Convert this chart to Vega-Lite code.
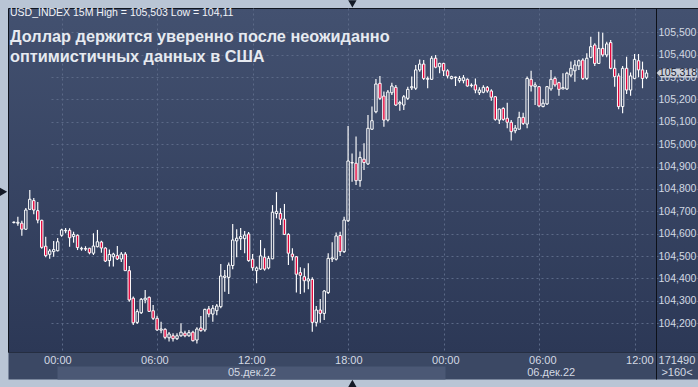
{
  "$schema": "https://vega.github.io/schema/vega-lite/v6.json",
  "width": 690,
  "height": 344,
  "autosize": {"type": "none"},
  "padding": {"left": 8, "top": 8, "right": 0, "bottom": 35},
  "background": "#b9c5d5",
  "view": {
    "fill": {"gradient": "linear", "x1": 0, "y1": 0, "x2": 0, "y2": 1,
      "stops": [{"offset": 0, "color": "#435170"}, {"offset": 1, "color": "#2c3856"}]},
    "stroke": "#10151f",
    "strokeWidth": 1
  },
  "config": {
    "font": "Liberation Sans",
    "axis": {"labelFont": "Liberation Sans", "labelColor": "#d3d9e3", "labelFontSize": 11, "labelOverlap": false},
    "axisY": {"labelOverlap": false}
  },
  "title": {
    "text": "USD_INDEX 15M High = 105,503 Low = 104,11",
    "subtitle": ["Доллар держится уверенно после неожиданно", "оптимистичных данных в США"],
    "anchor": "start",
    "frame": "group",
    "orient": "top",
    "offset": -65,
    "dx": 2,
    "font": "Liberation Sans",
    "fontSize": 10.5,
    "fontWeight": "normal",
    "color": "#f2f4f8",
    "subtitleFont": "Liberation Sans",
    "subtitleFontSize": 16.3,
    "subtitleFontWeight": "bold",
    "subtitleColor": "#e6eaf0",
    "subtitleLineHeight": 20,
    "subtitlePadding": 11
  },
  "datasets": {
    "candles": [
      {"t": "2022-12-04T21:00Z", "o": 104.650, "h": 104.655, "l": 104.646, "c": 104.652},
      {"t": "2022-12-04T21:15Z", "o": 104.647, "h": 104.676, "l": 104.636, "c": 104.651},
      {"t": "2022-12-04T21:30Z", "o": 104.647, "h": 104.658, "l": 104.591, "c": 104.620},
      {"t": "2022-12-04T21:45Z", "o": 104.620, "h": 104.715, "l": 104.618, "c": 104.706},
      {"t": "2022-12-04T22:00Z", "o": 104.709, "h": 104.795, "l": 104.707, "c": 104.754},
      {"t": "2022-12-04T22:15Z", "o": 104.748, "h": 104.760, "l": 104.687, "c": 104.706},
      {"t": "2022-12-04T22:30Z", "o": 104.703, "h": 104.742, "l": 104.647, "c": 104.661},
      {"t": "2022-12-04T22:45Z", "o": 104.660, "h": 104.662, "l": 104.533, "c": 104.539},
      {"t": "2022-12-04T23:00Z", "o": 104.544, "h": 104.587, "l": 104.495, "c": 104.502},
      {"t": "2022-12-04T23:15Z", "o": 104.508, "h": 104.532, "l": 104.488, "c": 104.523},
      {"t": "2022-12-04T23:30Z", "o": 104.520, "h": 104.568, "l": 104.497, "c": 104.529},
      {"t": "2022-12-04T23:45Z", "o": 104.524, "h": 104.581, "l": 104.521, "c": 104.564},
      {"t": "2022-12-05T00:00Z", "o": 104.593, "h": 104.622, "l": 104.587, "c": 104.617},
      {"t": "2022-12-05T00:15Z", "o": 104.613, "h": 104.626, "l": 104.602, "c": 104.615},
      {"t": "2022-12-05T00:30Z", "o": 104.615, "h": 104.624, "l": 104.542, "c": 104.582},
      {"t": "2022-12-05T00:45Z", "o": 104.587, "h": 104.609, "l": 104.560, "c": 104.597},
      {"t": "2022-12-05T01:00Z", "o": 104.593, "h": 104.597, "l": 104.527, "c": 104.538},
      {"t": "2022-12-05T01:15Z", "o": 104.532, "h": 104.542, "l": 104.524, "c": 104.535},
      {"t": "2022-12-05T01:30Z", "o": 104.534, "h": 104.544, "l": 104.523, "c": 104.531},
      {"t": "2022-12-05T01:45Z", "o": 104.535, "h": 104.537, "l": 104.508, "c": 104.515},
      {"t": "2022-12-05T02:00Z", "o": 104.513, "h": 104.602, "l": 104.505, "c": 104.545},
      {"t": "2022-12-05T02:15Z", "o": 104.542, "h": 104.617, "l": 104.539, "c": 104.564},
      {"t": "2022-12-05T02:30Z", "o": 104.563, "h": 104.569, "l": 104.515, "c": 104.536},
      {"t": "2022-12-05T02:45Z", "o": 104.536, "h": 104.539, "l": 104.474, "c": 104.478},
      {"t": "2022-12-05T03:00Z", "o": 104.480, "h": 104.530, "l": 104.454, "c": 104.507},
      {"t": "2022-12-05T03:15Z", "o": 104.497, "h": 104.515, "l": 104.453, "c": 104.509},
      {"t": "2022-12-05T03:30Z", "o": 104.502, "h": 104.545, "l": 104.483, "c": 104.487},
      {"t": "2022-12-05T03:45Z", "o": 104.487, "h": 104.518, "l": 104.474, "c": 104.509},
      {"t": "2022-12-05T04:00Z", "o": 104.509, "h": 104.518, "l": 104.433, "c": 104.435},
      {"t": "2022-12-05T04:15Z", "o": 104.435, "h": 104.456, "l": 104.296, "c": 104.304},
      {"t": "2022-12-05T04:30Z", "o": 104.312, "h": 104.319, "l": 104.192, "c": 104.202},
      {"t": "2022-12-05T04:45Z", "o": 104.204, "h": 104.262, "l": 104.197, "c": 104.252},
      {"t": "2022-12-05T05:00Z", "o": 104.247, "h": 104.313, "l": 104.241, "c": 104.307},
      {"t": "2022-12-05T05:15Z", "o": 104.304, "h": 104.349, "l": 104.289, "c": 104.312},
      {"t": "2022-12-05T05:30Z", "o": 104.316, "h": 104.319, "l": 104.250, "c": 104.253},
      {"t": "2022-12-05T05:45Z", "o": 104.256, "h": 104.282, "l": 104.215, "c": 104.222},
      {"t": "2022-12-05T06:00Z", "o": 104.222, "h": 104.234, "l": 104.167, "c": 104.170},
      {"t": "2022-12-05T06:15Z", "o": 104.169, "h": 104.207, "l": 104.155, "c": 104.174},
      {"t": "2022-12-05T06:30Z", "o": 104.173, "h": 104.178, "l": 104.128, "c": 104.137},
      {"t": "2022-12-05T06:45Z", "o": 104.135, "h": 104.161, "l": 104.118, "c": 104.152},
      {"t": "2022-12-05T07:00Z", "o": 104.144, "h": 104.155, "l": 104.118, "c": 104.131},
      {"t": "2022-12-05T07:15Z", "o": 104.131, "h": 104.155, "l": 104.125, "c": 104.144},
      {"t": "2022-12-05T07:30Z", "o": 104.144, "h": 104.200, "l": 104.140, "c": 104.160},
      {"t": "2022-12-05T07:45Z", "o": 104.156, "h": 104.167, "l": 104.137, "c": 104.144},
      {"t": "2022-12-05T08:00Z", "o": 104.144, "h": 104.170, "l": 104.140, "c": 104.158},
      {"t": "2022-12-05T08:15Z", "o": 104.160, "h": 104.167, "l": 104.118, "c": 104.122},
      {"t": "2022-12-05T08:30Z", "o": 104.125, "h": 104.182, "l": 104.110, "c": 104.174},
      {"t": "2022-12-05T08:45Z", "o": 104.179, "h": 104.232, "l": 104.162, "c": 104.167},
      {"t": "2022-12-05T09:00Z", "o": 104.170, "h": 104.265, "l": 104.162, "c": 104.262},
      {"t": "2022-12-05T09:15Z", "o": 104.264, "h": 104.277, "l": 104.227, "c": 104.241},
      {"t": "2022-12-05T09:30Z", "o": 104.241, "h": 104.282, "l": 104.207, "c": 104.267},
      {"t": "2022-12-05T09:45Z", "o": 104.256, "h": 104.286, "l": 104.236, "c": 104.277},
      {"t": "2022-12-05T10:00Z", "o": 104.274, "h": 104.465, "l": 104.267, "c": 104.411},
      {"t": "2022-12-05T10:15Z", "o": 104.405, "h": 104.438, "l": 104.341, "c": 104.411},
      {"t": "2022-12-05T10:30Z", "o": 104.405, "h": 104.471, "l": 104.331, "c": 104.460},
      {"t": "2022-12-05T10:45Z", "o": 104.458, "h": 104.643, "l": 104.441, "c": 104.572},
      {"t": "2022-12-05T11:00Z", "o": 104.568, "h": 104.620, "l": 104.495, "c": 104.580},
      {"t": "2022-12-05T11:15Z", "o": 104.578, "h": 104.626, "l": 104.527, "c": 104.587},
      {"t": "2022-12-05T11:30Z", "o": 104.578, "h": 104.612, "l": 104.513, "c": 104.594},
      {"t": "2022-12-05T11:45Z", "o": 104.599, "h": 104.608, "l": 104.475, "c": 104.480},
      {"t": "2022-12-05T12:00Z", "o": 104.486, "h": 104.509, "l": 104.435, "c": 104.448},
      {"t": "2022-12-05T12:15Z", "o": 104.435, "h": 104.453, "l": 104.379, "c": 104.447},
      {"t": "2022-12-05T12:30Z", "o": 104.442, "h": 104.572, "l": 104.438, "c": 104.501},
      {"t": "2022-12-05T12:45Z", "o": 104.495, "h": 104.535, "l": 104.435, "c": 104.442},
      {"t": "2022-12-05T13:00Z", "o": 104.447, "h": 104.501, "l": 104.441, "c": 104.490},
      {"t": "2022-12-05T13:15Z", "o": 104.488, "h": 104.728, "l": 104.486, "c": 104.696},
      {"t": "2022-12-05T13:30Z", "o": 104.690, "h": 104.786, "l": 104.669, "c": 104.700},
      {"t": "2022-12-05T13:45Z", "o": 104.691, "h": 104.714, "l": 104.639, "c": 104.665},
      {"t": "2022-12-05T14:00Z", "o": 104.665, "h": 104.733, "l": 104.594, "c": 104.597},
      {"t": "2022-12-05T14:15Z", "o": 104.597, "h": 104.602, "l": 104.460, "c": 104.513},
      {"t": "2022-12-05T14:30Z", "o": 104.509, "h": 104.535, "l": 104.480, "c": 104.497},
      {"t": "2022-12-05T14:45Z", "o": 104.497, "h": 104.501, "l": 104.337, "c": 104.419},
      {"t": "2022-12-05T15:00Z", "o": 104.426, "h": 104.450, "l": 104.331, "c": 104.414},
      {"t": "2022-12-05T15:15Z", "o": 104.408, "h": 104.446, "l": 104.337, "c": 104.390},
      {"t": "2022-12-05T15:30Z", "o": 104.389, "h": 104.468, "l": 104.352, "c": 104.398},
      {"t": "2022-12-05T15:45Z", "o": 104.396, "h": 104.405, "l": 104.162, "c": 104.204},
      {"t": "2022-12-05T16:00Z", "o": 104.204, "h": 104.277, "l": 104.185, "c": 104.259},
      {"t": "2022-12-05T16:15Z", "o": 104.259, "h": 104.308, "l": 104.202, "c": 104.244},
      {"t": "2022-12-05T16:30Z", "o": 104.244, "h": 104.349, "l": 104.215, "c": 104.344},
      {"t": "2022-12-05T16:45Z", "o": 104.337, "h": 104.513, "l": 104.331, "c": 104.490},
      {"t": "2022-12-05T17:00Z", "o": 104.487, "h": 104.562, "l": 104.474, "c": 104.492},
      {"t": "2022-12-05T17:15Z", "o": 104.486, "h": 104.605, "l": 104.480, "c": 104.590},
      {"t": "2022-12-05T17:30Z", "o": 104.592, "h": 104.609, "l": 104.501, "c": 104.520},
      {"t": "2022-12-05T17:45Z", "o": 104.520, "h": 104.676, "l": 104.514, "c": 104.661},
      {"t": "2022-12-05T18:00Z", "o": 104.658, "h": 105.081, "l": 104.652, "c": 104.925},
      {"t": "2022-12-05T18:15Z", "o": 104.918, "h": 104.959, "l": 104.832, "c": 104.916},
      {"t": "2022-12-05T18:30Z", "o": 104.915, "h": 105.034, "l": 104.818, "c": 104.837},
      {"t": "2022-12-05T18:45Z", "o": 104.837, "h": 104.967, "l": 104.810, "c": 104.941},
      {"t": "2022-12-05T19:00Z", "o": 104.933, "h": 105.004, "l": 104.885, "c": 104.918},
      {"t": "2022-12-05T19:15Z", "o": 104.912, "h": 105.131, "l": 104.907, "c": 105.071},
      {"t": "2022-12-05T19:30Z", "o": 105.067, "h": 105.168, "l": 105.063, "c": 105.105},
      {"t": "2022-12-05T19:45Z", "o": 105.145, "h": 105.291, "l": 105.138, "c": 105.269},
      {"t": "2022-12-05T20:00Z", "o": 105.272, "h": 105.305, "l": 105.198, "c": 105.205},
      {"t": "2022-12-05T20:15Z", "o": 105.215, "h": 105.235, "l": 105.078, "c": 105.108},
      {"t": "2022-12-05T20:30Z", "o": 105.108, "h": 105.242, "l": 105.101, "c": 105.233},
      {"t": "2022-12-05T20:45Z", "o": 105.230, "h": 105.275, "l": 105.220, "c": 105.260},
      {"t": "2022-12-05T21:00Z", "o": 105.254, "h": 105.264, "l": 105.171, "c": 105.175},
      {"t": "2022-12-05T21:15Z", "o": 105.180, "h": 105.194, "l": 105.150, "c": 105.186},
      {"t": "2022-12-05T21:30Z", "o": 105.175, "h": 105.220, "l": 105.153, "c": 105.212},
      {"t": "2022-12-05T21:45Z", "o": 105.205, "h": 105.257, "l": 105.198, "c": 105.245},
      {"t": "2022-12-05T22:00Z", "o": 105.252, "h": 105.302, "l": 105.242, "c": 105.257},
      {"t": "2022-12-05T22:15Z", "o": 105.250, "h": 105.354, "l": 105.242, "c": 105.332},
      {"t": "2022-12-05T22:30Z", "o": 105.332, "h": 105.379, "l": 105.324, "c": 105.358},
      {"t": "2022-12-05T22:45Z", "o": 105.358, "h": 105.376, "l": 105.287, "c": 105.294},
      {"t": "2022-12-05T23:00Z", "o": 105.290, "h": 105.302, "l": 105.250, "c": 105.294},
      {"t": "2022-12-05T23:15Z", "o": 105.290, "h": 105.394, "l": 105.287, "c": 105.384},
      {"t": "2022-12-05T23:30Z", "o": 105.384, "h": 105.399, "l": 105.339, "c": 105.344},
      {"t": "2022-12-05T23:45Z", "o": 105.346, "h": 105.364, "l": 105.317, "c": 105.361},
      {"t": "2022-12-06T00:00Z", "o": 105.361, "h": 105.364, "l": 105.305, "c": 105.328},
      {"t": "2022-12-06T00:15Z", "o": 105.328, "h": 105.335, "l": 105.294, "c": 105.305},
      {"t": "2022-12-06T00:30Z", "o": 105.293, "h": 105.306, "l": 105.290, "c": 105.302},
      {"t": "2022-12-06T00:45Z", "o": 105.300, "h": 105.302, "l": 105.260, "c": 105.298},
      {"t": "2022-12-06T01:00Z", "o": 105.284, "h": 105.305, "l": 105.275, "c": 105.294},
      {"t": "2022-12-06T01:15Z", "o": 105.284, "h": 105.309, "l": 105.272, "c": 105.297},
      {"t": "2022-12-06T01:30Z", "o": 105.290, "h": 105.294, "l": 105.257, "c": 105.260},
      {"t": "2022-12-06T01:45Z", "o": 105.262, "h": 105.272, "l": 105.254, "c": 105.264},
      {"t": "2022-12-06T02:00Z", "o": 105.265, "h": 105.294, "l": 105.228, "c": 105.242},
      {"t": "2022-12-06T02:15Z", "o": 105.230, "h": 105.254, "l": 105.220, "c": 105.242},
      {"t": "2022-12-06T02:30Z", "o": 105.232, "h": 105.263, "l": 105.228, "c": 105.254},
      {"t": "2022-12-06T02:45Z", "o": 105.254, "h": 105.260, "l": 105.230, "c": 105.238},
      {"t": "2022-12-06T03:00Z", "o": 105.238, "h": 105.245, "l": 105.194, "c": 105.210},
      {"t": "2022-12-06T03:15Z", "o": 105.212, "h": 105.215, "l": 105.105, "c": 105.111},
      {"t": "2022-12-06T03:30Z", "o": 105.108, "h": 105.160, "l": 105.090, "c": 105.157},
      {"t": "2022-12-06T03:45Z", "o": 105.160, "h": 105.165, "l": 105.105, "c": 105.111},
      {"t": "2022-12-06T04:00Z", "o": 105.116, "h": 105.185, "l": 105.071, "c": 105.098},
      {"t": "2022-12-06T04:15Z", "o": 105.098, "h": 105.108, "l": 105.016, "c": 105.056},
      {"t": "2022-12-06T04:30Z", "o": 105.060, "h": 105.086, "l": 105.049, "c": 105.072},
      {"t": "2022-12-06T04:45Z", "o": 105.067, "h": 105.145, "l": 105.066, "c": 105.120},
      {"t": "2022-12-06T05:00Z", "o": 105.120, "h": 105.141, "l": 105.086, "c": 105.093},
      {"t": "2022-12-06T05:15Z", "o": 105.090, "h": 105.302, "l": 105.071, "c": 105.294},
      {"t": "2022-12-06T05:30Z", "o": 105.290, "h": 105.328, "l": 105.235, "c": 105.260},
      {"t": "2022-12-06T05:45Z", "o": 105.257, "h": 105.277, "l": 105.175, "c": 105.265},
      {"t": "2022-12-06T06:00Z", "o": 105.257, "h": 105.260, "l": 105.165, "c": 105.171},
      {"t": "2022-12-06T06:15Z", "o": 105.168, "h": 105.201, "l": 105.165, "c": 105.183},
      {"t": "2022-12-06T06:30Z", "o": 105.180, "h": 105.260, "l": 105.175, "c": 105.257},
      {"t": "2022-12-06T06:45Z", "o": 105.247, "h": 105.332, "l": 105.239, "c": 105.290},
      {"t": "2022-12-06T07:00Z", "o": 105.294, "h": 105.302, "l": 105.257, "c": 105.265},
      {"t": "2022-12-06T07:15Z", "o": 105.275, "h": 105.279, "l": 105.217, "c": 105.245},
      {"t": "2022-12-06T07:30Z", "o": 105.247, "h": 105.317, "l": 105.245, "c": 105.253},
      {"t": "2022-12-06T07:45Z", "o": 105.247, "h": 105.324, "l": 105.242, "c": 105.317},
      {"t": "2022-12-06T08:00Z", "o": 105.309, "h": 105.369, "l": 105.299, "c": 105.339},
      {"t": "2022-12-06T08:15Z", "o": 105.328, "h": 105.376, "l": 105.279, "c": 105.354},
      {"t": "2022-12-06T08:30Z", "o": 105.350, "h": 105.379, "l": 105.332, "c": 105.373},
      {"t": "2022-12-06T08:45Z", "o": 105.376, "h": 105.384, "l": 105.287, "c": 105.294},
      {"t": "2022-12-06T09:00Z", "o": 105.294, "h": 105.406, "l": 105.287, "c": 105.384},
      {"t": "2022-12-06T09:15Z", "o": 105.388, "h": 105.480, "l": 105.384, "c": 105.436},
      {"t": "2022-12-06T09:30Z", "o": 105.443, "h": 105.451, "l": 105.349, "c": 105.361},
      {"t": "2022-12-06T09:45Z", "o": 105.361, "h": 105.503, "l": 105.358, "c": 105.428},
      {"t": "2022-12-06T10:00Z", "o": 105.428, "h": 105.498, "l": 105.391, "c": 105.399},
      {"t": "2022-12-06T10:15Z", "o": 105.399, "h": 105.458, "l": 105.388, "c": 105.448},
      {"t": "2022-12-06T10:30Z", "o": 105.454, "h": 105.466, "l": 105.335, "c": 105.339},
      {"t": "2022-12-06T10:45Z", "o": 105.339, "h": 105.379, "l": 105.257, "c": 105.302},
      {"t": "2022-12-06T11:00Z", "o": 105.305, "h": 105.317, "l": 105.156, "c": 105.168},
      {"t": "2022-12-06T11:15Z", "o": 105.168, "h": 105.349, "l": 105.138, "c": 105.339},
      {"t": "2022-12-06T11:30Z", "o": 105.339, "h": 105.391, "l": 105.224, "c": 105.242},
      {"t": "2022-12-06T11:45Z", "o": 105.242, "h": 105.320, "l": 105.217, "c": 105.305},
      {"t": "2022-12-06T12:00Z", "o": 105.294, "h": 105.403, "l": 105.290, "c": 105.379},
      {"t": "2022-12-06T12:15Z", "o": 105.373, "h": 105.403, "l": 105.299, "c": 105.332},
      {"t": "2022-12-06T12:30Z", "o": 105.332, "h": 105.369, "l": 105.250, "c": 105.294},
      {"t": "2022-12-06T12:45Z", "o": 105.299, "h": 105.332, "l": 105.291, "c": 105.318}
    ]
  },
  "layer": [
    {
      "data": {"name": "candles"},
      "encoding": {
        "x": {
          "field": "t", "type": "temporal",
          "scale": {"type": "utc",
            "domain": [{"year": 2022, "month": 12, "date": 4, "hours": 20, "minutes": 56, "seconds": 40, "utc": true},
                       {"year": 2022, "month": 12, "date": 6, "hours": 13, "minutes": 2, "utc": true}],
            "range": [0, 648]},
          "axis": {
            "orient": "bottom",
            "values": [
              {"year": 2022, "month": 12, "date": 5, "hours": 0, "utc": true},
              {"year": 2022, "month": 12, "date": 5, "hours": 6, "utc": true},
              {"year": 2022, "month": 12, "date": 5, "hours": 12, "utc": true},
              {"year": 2022, "month": 12, "date": 5, "hours": 18, "utc": true},
              {"year": 2022, "month": 12, "date": 6, "hours": 0, "utc": true},
              {"year": 2022, "month": 12, "date": 6, "hours": 6, "utc": true},
              {"year": 2022, "month": 12, "date": 6, "hours": 12, "utc": true}
            ],
            "grid": true, "gridColor": "#5b6987", "gridDash": [2, 3], "gridWidth": 1,
            "labels": false, "ticks": false, "domain": false, "title": null
          }
        },
        "y": {
          "field": "h", "type": "quantitative",
          "scale": {"domain": [104.0715, 105.6086], "zero": false, "nice": false},
          "axis": {
            "orient": "right", "offset": -42,
            "values": [104.2, 104.3, 104.4, 104.5, 104.6, 104.7, 104.8, 104.9, 105.0, 105.1, 105.2, 105.3, 105.4, 105.5],
            "labelExpr": "replace(format(datum.value, '.3f'), '.', ',')",
            "labelAlign": "left", "labelPadding": 2, "labelFontSize": 10.5, "labelColor": "#d3d9e3",
            "labelOverlap": false, "labelFlush": false,
            "grid": true, "gridColor": "#5b6987", "gridDash": [2, 3], "gridWidth": 1,
            "ticks": false, "domain": true, "domainColor": "#0d1119", "domainWidth": 1,
            "title": null
          }
        }
      },
      "layer": [
        {
          "transform": [{"filter": "datum.c >= datum.o"}],
          "mark": {"type": "rule", "color": "#ffffff", "strokeWidth": 1.15, "clip": true},
          "encoding": {"y2": {"field": "c"}}
        },
        {
          "transform": [{"filter": "datum.c >= datum.o"}],
          "mark": {"type": "rule", "color": "#ffffff", "strokeWidth": 1.15, "clip": true},
          "encoding": {"y": {"field": "o", "type": "quantitative"}, "y2": {"field": "l"}}
        },
        {
          "transform": [{"filter": "datum.c < datum.o"}],
          "mark": {"type": "rule", "color": "#ffffff", "strokeWidth": 1.15, "clip": true},
          "encoding": {"y2": {"field": "o"}}
        },
        {
          "transform": [{"filter": "datum.c < datum.o"}],
          "mark": {"type": "rule", "color": "#ffffff", "strokeWidth": 1.15, "clip": true},
          "encoding": {"y": {"field": "c", "type": "quantitative"}, "y2": {"field": "l"}}
        },
        {
          "mark": {"type": "bar", "width": 2.4, "stroke": "#ffffff", "strokeWidth": 1, "clip": true},
          "encoding": {
            "y": {"field": "o", "type": "quantitative"},
            "y2": {"field": "c"},
            "fill": {"condition": {"test": "datum.c < datum.o", "value": "#e3063c"}, "value": "transparent"}
          }
        }
      ]
    },
    {
      "data": {"name": "candles"},
      "transform": [{"filter": "+toDate(datum.t) == 1670330700000"}],
      "mark": {"type": "point", "shape": "M-1,0L-0.79,-0.22L1,-0.22L1,0.22L-0.79,0.22Z", "size": 1665, "filled": true, "fill": "#c9cfd9", "opacity": 1, "strokeWidth": 0},
      "encoding": {
        "x": {
          "datum": {"year": 2022, "month": 12, "date": 6, "hours": 14, "minutes": 20, "utc": true}, "type": "temporal",
          "scale": {"type": "utc",
            "domain": [{"year": 2022, "month": 12, "date": 4, "hours": 20, "minutes": 56, "seconds": 40, "utc": true},
                       {"year": 2022, "month": 12, "date": 6, "hours": 15, "minutes": 37, "seconds": 54, "utc": true}]},
          "axis": {
            "orient": "bottom",
            "offset": 13.5, "domain": true, "domainColor": "#3b4864", "domainWidth": 27,
            "ticks": false, "labels": false, "grid": false, "title": null
          }
        },
        "y": {"field": "c", "type": "quantitative",
          "scale": {"domain": [104.0715, 105.6086], "zero": false, "nice": false}, "axis": null}
      }
    },
    {
      "data": {"name": "candles"},
      "transform": [{"filter": "+toDate(datum.t) == 1670330700000"}],
      "mark": {"type": "text", "text": "105,318", "font": "Liberation Sans", "fontSize": 10.5, "color": "#1b2233", "dx": 1, "baseline": "middle"},
      "encoding": {
        "x": {
          "datum": {"year": 2022, "month": 12, "date": 6, "hours": 14, "minutes": 20, "utc": true}, "type": "temporal",
          "scale": {"type": "utc",
            "domain": [{"year": 2022, "month": 12, "date": 4, "hours": 20, "minutes": 56, "seconds": 40, "utc": true},
                       {"year": 2022, "month": 12, "date": 6, "hours": 15, "minutes": 37, "seconds": 54, "utc": true}]},
          "axis": {
            "orient": "bottom",
            "values": [
              {"year": 2022, "month": 12, "date": 5, "hours": 0, "utc": true},
              {"year": 2022, "month": 12, "date": 5, "hours": 6, "utc": true},
              {"year": 2022, "month": 12, "date": 5, "hours": 12, "utc": true},
              {"year": 2022, "month": 12, "date": 5, "hours": 18, "utc": true},
              {"year": 2022, "month": 12, "date": 6, "hours": 0, "utc": true},
              {"year": 2022, "month": 12, "date": 6, "hours": 6, "utc": true},
              {"year": 2022, "month": 12, "date": 6, "hours": 12, "utc": true},
              {"year": 2022, "month": 12, "date": 6, "hours": 13, "minutes": 2, "utc": true},
              {"year": 2022, "month": 12, "date": 6, "hours": 14, "minutes": 18, "utc": true}
            ],
            "labelExpr": "datum.value > 1670334000000 ? '171490' : (datum.value > 1670330000000 ? '' : utcFormat(datum.value, '%H:%M'))",
            "ticks": true, "tickSize": 27, "tickWidth": 1,
            "tickColor": {"condition": {"test": "datum.value > 1670331000000 && datum.value < 1670332500000", "value": "#0d1119"}, "value": "transparent"},
            "labelPadding": -19, "labelBaseline": "middle", "labelFlush": false, "labelOverlap": false,
            "labelFontSize": 11, "labelColor": "#d3d9e3",
            "domain": false, "grid": false, "title": null, "zindex": 1
          }
        },
        "y": {"field": "c", "type": "quantitative",
          "scale": {"domain": [104.0715, 105.6086], "zero": false, "nice": false}, "axis": null}
      }
    },
    {
      "data": {"values": [{}]},
      "layer": [
        {
          "mark": {"type": "point", "shape": "triangle-down", "size": 70, "filled": true, "fill": "#141a26", "opacity": 1},
          "encoding": {
            "x": {
              "datum": {"year": 2022, "month": 12, "date": 5, "hours": 18, "minutes": 15, "utc": true}, "type": "temporal",
              "scale": {"type": "utc",
                "domain": [{"year": 2022, "month": 12, "date": 4, "hours": 20, "minutes": 56, "seconds": 40, "utc": true},
                           {"year": 2022, "month": 12, "date": 6, "hours": 15, "minutes": 37, "seconds": 54, "utc": true}]},
              "axis": {
                "orient": "bottom",
                "values": [
                  {"year": 2022, "month": 12, "date": 5, "hours": 12, "utc": true},
                  {"year": 2022, "month": 12, "date": 6, "hours": 6, "minutes": 31, "utc": true},
                  {"year": 2022, "month": 12, "date": 6, "hours": 14, "minutes": 18, "utc": true}
                ],
                "labelExpr": "datum.value > 1670334000000 ? '>160<' : utcFormat(datum.value, '%d') + '.дек.22'",
                "offset": 14, "ticks": true, "tickSize": 13, "tickColor": "#4b5875",
                "tickWidth": {"condition": {"test": "datum.value < 1670260000000", "value": 388}, "value": 0},
                "labelPadding": -6.5, "labelBaseline": "middle", "labelFlush": false, "labelOverlap": false,
                "labelFontSize": 11, "labelColor": "#d3d9e3",
                "domain": false, "grid": false, "title": null, "zindex": 1
              }
            },
            "y": {"datum": 105.6265, "type": "quantitative",
              "scale": {"domain": [104.0715, 105.6086], "zero": false, "nice": false}, "axis": null}
          }
        },
        {
          "mark": {"type": "point", "shape": "triangle-up", "size": 70, "filled": true, "fill": "#141a26", "opacity": 1},
          "encoding": {
            "x": {"datum": {"year": 2022, "month": 12, "date": 5, "hours": 18, "minutes": 15, "utc": true}, "type": "temporal"},
            "y": {"datum": 103.931, "type": "quantitative"}
          }
        },
        {
          "mark": {"type": "point", "shape": "triangle-right", "size": 70, "filled": true, "fill": "#141a26", "opacity": 1},
          "encoding": {
            "x": {"datum": {"year": 2022, "month": 12, "date": 4, "hours": 20, "minutes": 40, "utc": true}, "type": "temporal"},
            "y": {"datum": 104.787, "type": "quantitative"}
          }
        }
      ]
    }
  ],
  "resolve": {"scale": {"x": "independent", "y": "independent"}, "axis": {"x": "independent", "y": "independent"}}
}
